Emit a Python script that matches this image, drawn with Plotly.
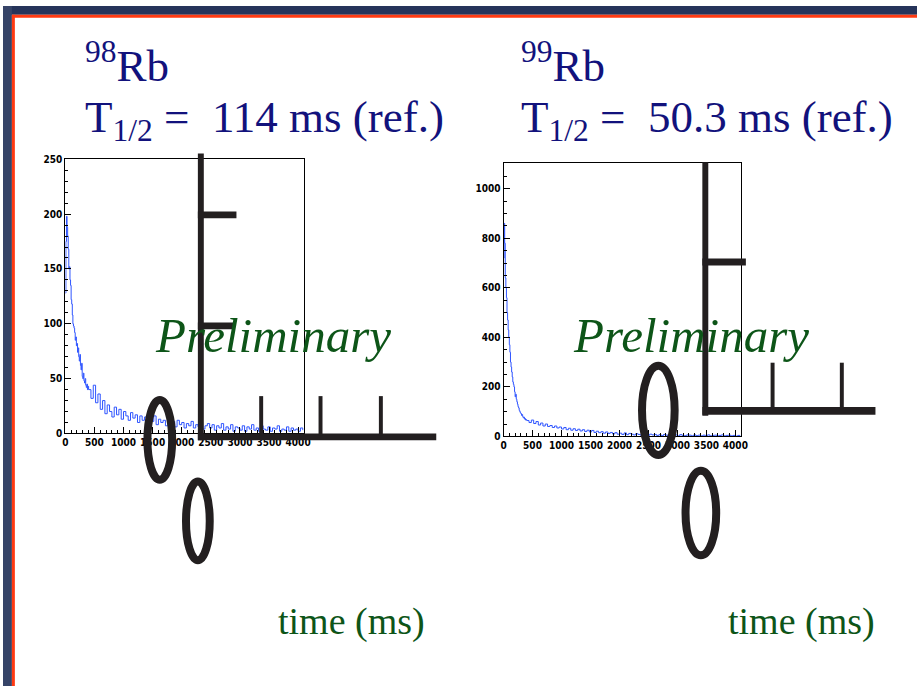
import numpy as np
import plotly.graph_objects as go

W, H = 924, 692

# ---------------- data ----------------
early_bin_ms = 10   # bin width of the first 400 ms
late_bin_ms = 40    # bin width after 400 ms
early_end_ms = 400

rb98_early_counts = [128, 175, 198, 188, 180, 168, 150, 152, 140, 135,
                     122, 118, 108, 100, 98, 96, 92, 85, 88, 80,
                     82, 74, 78, 70, 66, 72, 62, 58, 64, 52,
                     50, 55, 48, 46, 50, 44, 42, 45, 40, 43]
rb98_late_counts = [40, 32, 44, 28, 36, 22, 30, 18, 26, 20,
                    15, 24, 17, 22, 13, 20, 16, 12, 19, 14,
                    17, 10, 16, 12, 15, 9, 14, 11, 16, 8,
                    13, 10, 12, 7, 14, 9, 11, 6, 12, 8,
                    10, 5, 9, 7, 11, 5, 8, 6, 10, 4,
                    7, 9, 5, 8, 3, 7, 5, 9, 3, 6,
                    4, 8, 2, 6, 5, 3, 7, 2, 6, 4,
                    8, 3, 5, 2, 7, 4, 3, 6, 2, 5,
                    4, 7, 2, 4, 3, 6, 2, 5, 3, 4,
                    2, 5, 3]

rb99_early_counts = [720, 860, 780, 640, 600, 560, 500, 470, 430, 400,
                     370, 340, 300, 280, 260, 240, 220, 210, 200, 180,
                     160, 170, 150, 140, 130, 120, 115, 105, 100, 95,
                     92, 85, 88, 80, 75, 78, 70, 72, 66, 68]
rb99_late_counts = [64, 56, 66, 52, 60, 46, 54, 42, 50, 40, 44, 36, 42, 34, 38, 30,
                    36, 27, 33, 25, 31, 24, 29, 22, 27, 20, 25, 18, 24, 16, 21, 15,
                    19, 13, 18, 12, 16, 10, 15, 9, 13, 8, 14, 7, 12, 9, 6, 11,
                    8, 5, 10, 7, 4, 9, 6, 8, 4, 7, 3, 8, 5, 3, 7, 4,
                    6, 2, 7, 4, 3, 6, 5, 2, 6, 3, 5, 2, 5, 3, 6, 2,
                    4, 5, 2, 4, 6, 2, 4, 5, 2, 4, 1, 4, 2]

x_range = [0, 4096]
rb98_y_range = [0, 250]
rb99_y_range = [0, 1103]
x_tick_vals = [0, 500, 1000, 1500, 2000, 2500, 3000, 3500, 4000]
rb98_y_ticks = [0, 50, 100, 150, 200, 250]
rb99_y_ticks = [0, 200, 400, 600, 800, 1000]

titles_iso = ["<sup>98</sup>Rb", "<sup>99</sup>Rb"]
titles_half = ["T<sub>1/2</sub> =  114 ms (ref.)", "T<sub>1/2</sub> =  50.3 ms (ref.)"]
watermark = "Preliminary"
x_label = "time (ms)"


def bin_edges(early, late):
    e = list(np.arange(len(early)) * early_bin_ms)
    l = list(early_end_ms + np.arange(len(late)) * late_bin_ms)
    return e + l, list(early) + list(late)


def px(x):
    return x / W


def py(y):
    return 1 - y / H


fig = go.Figure()

t98, c98 = bin_edges(rb98_early_counts, rb98_late_counts)
t99, c99 = bin_edges(rb99_early_counts, rb99_late_counts)

line_col = "#2f55ff"
fig.add_trace(go.Scatter(x=t98, y=c98, mode="lines", line=dict(color=line_col, width=1, shape="hv"),
                         xaxis="x", yaxis="y", showlegend=False, hoverinfo="skip"))
fig.add_trace(go.Scatter(x=t99, y=c99, mode="lines", line=dict(color=line_col, width=1, shape="hv"),
                         xaxis="x2", yaxis="y2", showlegend=False, hoverinfo="skip"))

tick_font = dict(family="Liberation Sans Narrow, DejaVu Sans Condensed, sans-serif", size=10,
                 color="black", weight="bold")

axis_common = dict(showgrid=False, zeroline=False, showline=True, linecolor="black", linewidth=1,
                   mirror=True, ticks="inside", ticklen=6, tickcolor="black", tickwidth=1,
                   tickfont=tick_font)

fig.update_layout(
    width=W, height=H, margin=dict(l=0, r=0, t=0, b=0),
    paper_bgcolor="white", plot_bgcolor="rgba(0,0,0,0)",
    xaxis=dict(domain=[px(63), px(304)], range=x_range, anchor="y", tickvals=x_tick_vals,
               minor=dict(ticks="inside", dtick=100, ticklen=3, tickcolor="black"), **axis_common),
    yaxis=dict(domain=[py(435), py(156)], range=rb98_y_range, anchor="x", tickvals=rb98_y_ticks,
               minor=dict(ticks="inside", dtick=10, ticklen=3, tickcolor="black"), **axis_common),
    xaxis2=dict(domain=[px(506), px(746)], range=x_range, anchor="y2", tickvals=x_tick_vals,
                minor=dict(ticks="inside", dtick=100, ticklen=3, tickcolor="black"), **axis_common),
    yaxis2=dict(domain=[py(438), py(160)], range=rb99_y_range, anchor="x2", tickvals=rb99_y_ticks,
                minor=dict(ticks="inside", dtick=50, ticklen=3, tickcolor="black"), **axis_common),
)

shapes = []
# slide frame
navy_top = "#26345a"
navy_left = "#364468"
orange = "#ff3a12"
shapes.append(dict(type="rect", xref="paper", yref="paper", x0=0, x1=1, y0=py(9), y1=1,
                   fillcolor=navy_top, line_width=0, layer="above"))
shapes.append(dict(type="rect", xref="paper", yref="paper", x0=0, x1=px(9), y0=0, y1=1,
                   fillcolor=navy_left, line_width=0, layer="above"))
shapes.append(dict(type="rect", xref="paper", yref="paper", x0=px(9), x1=1, y0=py(12), y1=py(9),
                   fillcolor=orange, line_width=0, layer="above"))
shapes.append(dict(type="rect", xref="paper", yref="paper", x0=px(9), x1=px(12), y0=0, y1=py(9),
                   fillcolor=orange, line_width=0, layer="above"))

art = "#231f20"


def bar(x0, y0, x1, y1):
    shapes.append(dict(type="rect", xref="paper", yref="paper", x0=px(x0), x1=px(x1),
                       y0=py(y1), y1=py(y0), fillcolor=art, line_width=0, layer="above"))


def ring(x0, y0, x1, y1, w=8):
    shapes.append(dict(type="circle", xref="paper", yref="paper", x0=px(x0 + w / 2), x1=px(x1 - w / 2),
                       y0=py(y1 - w / 2), y1=py(y0 + w / 2), line=dict(color=art, width=w),
                       fillcolor="rgba(0,0,0,0)", layer="above"))


# left panel broken-axis fragments
bar(197, 150, 203, 442)
bar(197, 209, 236, 216)
bar(197, 322, 233, 329)
bar(197, 435, 438, 442)
bar(259, 397, 263, 437)
bar(319, 397, 323, 437)
bar(380, 397, 384, 437)
ring(142, 397, 175, 486)
ring(181, 480, 213, 568)

# right panel broken-axis fragments
bar(707, 159, 713, 417)
bar(707, 257, 751, 264)
bar(707, 408, 882, 416)
bar(776, 363, 780, 410)
bar(846, 363, 850, 410)
ring(642, 362, 683, 461)
ring(686, 469, 725, 563)

fig.update_layout(shapes=shapes)

navy_txt = "#12127c"
green_txt = "#0d5518"
serif = "Liberation Serif, Times New Roman, serif"
ann = []
for xl, iso, half in [(81, titles_iso[0], titles_half[0]), (522, titles_iso[1], titles_half[1])]:
    ann.append(dict(text=iso, x=px(xl), y=py(58), xref="paper", yref="paper", xanchor="left",
                    yanchor="middle", showarrow=False, font=dict(family=serif, size=45, color=navy_txt)))
    ann.append(dict(text=half, x=px(xl), y=py(116), xref="paper", yref="paper", xanchor="left",
                    yanchor="middle", showarrow=False, font=dict(family=serif, size=45, color=navy_txt)))
for xc in [273, 696]:
    ann.append(dict(text="<i>" + watermark + "</i>", x=px(xc), y=py(335), xref="paper", yref="paper",
                    xanchor="center", yanchor="middle", showarrow=False,
                    font=dict(family=serif, size=49, color=green_txt)))
for xc in [352, 807]:
    ann.append(dict(text=x_label, x=px(xc), y=py(626), xref="paper", yref="paper",
                    xanchor="center", yanchor="middle", showarrow=False,
                    font=dict(family=serif, size=38, color=green_txt)))
fig.update_layout(annotations=ann)

fig.write_html("out.html")
